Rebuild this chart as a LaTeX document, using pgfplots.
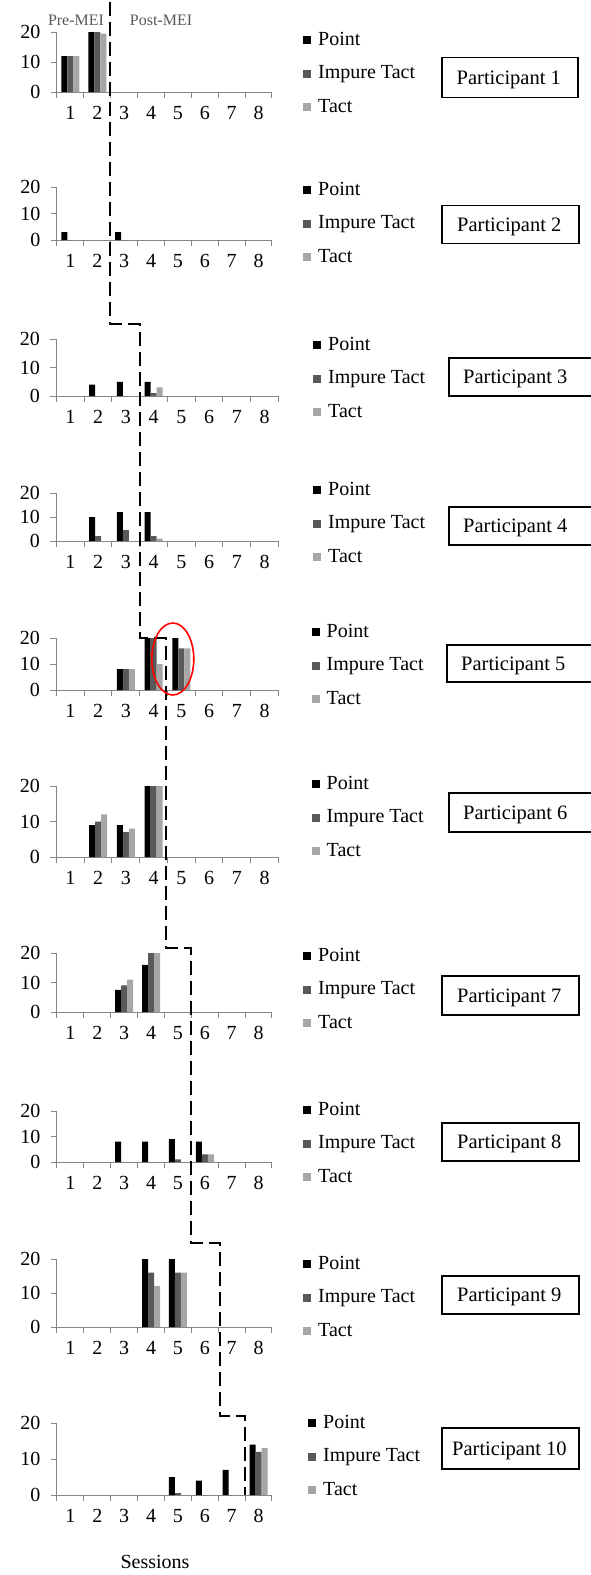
\documentclass[border=0pt]{standalone}
\usepackage{pgfplots}
\pgfplotsset{compat=1.18}
\usepackage{fontspec}
\setmainfont{Liberation Serif}
\definecolor{imp}{RGB}{89,89,89}
\definecolor{tac}{RGB}{166,166,166}
\definecolor{axgray}{RGB}{134,134,134}
\pgfplotsset{
  panel/.style={
    scale only axis, anchor=south west,
    xmin=0.5, xmax=8.5, ymin=0, ymax=20,
    axis lines=left, axis line style={-, draw=axgray, line width=1pt},
    every tick/.style={draw=axgray, line width=1pt},
    tick align=outside, major tick length=6pt, minor tick length=6pt,
    xtick={1,...,8}, minor xtick={0.5,1.5,...,8.5},
    major x tick style={draw=none},
    ytick={0,10,20},
    ticklabel style={font=\fontsize{20}{24}\selectfont},
    yticklabel style={xshift=-7pt},
    xticklabel style={yshift=-5pt},
    /pgf/number format/assume math mode=true,
    ybar=0pt, bar width=6pt,
    clip=false,
    legend cell align=left,
    legend image code/.code={\fill[##1] (0pt,-4pt) rectangle (8pt,4pt);},
    legend style={draw=none, fill=none, inner sep=0pt, row sep=11.5pt,
       font=\fontsize{20}{24}\selectfont,
       nodes={inner sep=2pt, text height=14pt, text depth=4pt},
       /tikz/every odd column/.append style={column sep=5pt},
       at={(1,0)}, anchor=north west},
  },
  pp/.style={fill=black, draw=none},
  pi/.style={fill=imp, draw=none},
  pa/.style={fill=tac, draw=none},
}
\begin{document}
\begin{tikzpicture}
\useasboundingbox (0pt,0pt) rectangle (591pt,-1575pt);

% Participant 1
\begin{axis}[panel, at={(57pt,-92pt)}, width=215pt, height=60pt,
  legend style={xshift=31pt, yshift=63pt}]
\addplot[pp] coordinates {(1,12) (2,20)}; \addlegendentry{Point}
\addplot[pi] coordinates {(1,12) (2,20)}; \addlegendentry{Impure Tact}
\addplot[pa] coordinates {(1,12) (2,19.5)}; \addlegendentry{Tact}
\end{axis}

% Participant 2
\begin{axis}[panel, at={(57pt,-240pt)}, width=215pt, height=53pt,
  legend style={xshift=31pt, yshift=61pt}]
\addplot[pp] coordinates {(1,3) (3,3)}; \addlegendentry{Point}
\addplot[pi] coordinates {(1,0) (3,0)}; \addlegendentry{Impure Tact}
\addplot[pa] coordinates {(1,0) (3,0)}; \addlegendentry{Tact}
\end{axis}

% Participant 3
\begin{axis}[panel, at={(56.5pt,-396pt)}, width=222pt, height=57pt,
  legend style={xshift=34.5pt, yshift=62pt}]
\addplot[pp] coordinates {(2,4) (3,5) (4,5)}; \addlegendentry{Point}
\addplot[pi] coordinates {(2,0) (3,0) (4,1)}; \addlegendentry{Impure Tact}
\addplot[pa] coordinates {(2,0) (3,0) (4,3)}; \addlegendentry{Tact}
\end{axis}

% Participant 4
\begin{axis}[panel, at={(56.5pt,-541pt)}, width=222pt, height=48pt,
  legend style={xshift=34.5pt, yshift=62pt}]
\addplot[pp] coordinates {(2,10) (3,12) (4,12)}; \addlegendentry{Point}
\addplot[pi] coordinates {(2,2) (3,4.5) (4,2)}; \addlegendentry{Impure Tact}
\addplot[pa] coordinates {(2,0) (3,0) (4,1)}; \addlegendentry{Tact}
\end{axis}

% Participant 5
\begin{axis}[panel, at={(56.5pt,-690pt)}, width=222pt, height=52pt,
  legend style={xshift=33pt, yshift=69pt}]
\addplot[pp] coordinates {(3,8) (4,20) (5,20)}; \addlegendentry{Point}
\addplot[pi] coordinates {(3,8) (4,20) (5,16)}; \addlegendentry{Impure Tact}
\addplot[pa] coordinates {(3,8) (4,10) (5,16)}; \addlegendentry{Tact}
\end{axis}

% Participant 6
\begin{axis}[panel, at={(56.5pt,-857pt)}, width=222pt, height=71pt,
  legend style={xshift=33pt, yshift=84pt}]
\addplot[pp] coordinates {(2,9) (3,9) (4,20)}; \addlegendentry{Point}
\addplot[pi] coordinates {(2,10) (3,7) (4,20)}; \addlegendentry{Impure Tact}
\addplot[pa] coordinates {(2,12) (3,8) (4,20)}; \addlegendentry{Tact}
\end{axis}

% Participant 7
\begin{axis}[panel, at={(57pt,-1012pt)}, width=215pt, height=59pt,
  legend style={xshift=31pt, yshift=67pt}]
\addplot[pp] coordinates {(3,7.5) (4,16)}; \addlegendentry{Point}
\addplot[pi] coordinates {(3,9) (4,20)}; \addlegendentry{Impure Tact}
\addplot[pa] coordinates {(3,11) (4,20)}; \addlegendentry{Tact}
\end{axis}

% Participant 8
\begin{axis}[panel, at={(57pt,-1162pt)}, width=215pt, height=51pt,
  legend style={xshift=31pt, yshift=63pt}]
\addplot[pp] coordinates {(3,8) (4,8) (5,9) (6,8)}; \addlegendentry{Point}
\addplot[pi] coordinates {(3,0) (4,0) (5,1) (6,3)}; \addlegendentry{Impure Tact}
\addplot[pa] coordinates {(3,0) (4,0) (5,0) (6,3)}; \addlegendentry{Tact}
\end{axis}

% Participant 9
\begin{axis}[panel, at={(57pt,-1327pt)}, width=215pt, height=68pt,
  legend style={xshift=31pt, yshift=74pt}]
\addplot[pp] coordinates {(4,20) (5,20)}; \addlegendentry{Point}
\addplot[pi] coordinates {(4,16) (5,16)}; \addlegendentry{Impure Tact}
\addplot[pa] coordinates {(4,12) (5,16)}; \addlegendentry{Tact}
\end{axis}

% Participant 10
\begin{axis}[panel, at={(57pt,-1495pt)}, width=215pt, height=72pt,
  legend style={xshift=36pt, yshift=83pt}]
\addplot[pp] coordinates {(5,5) (6,4) (7,7) (8,14)}; \addlegendentry{Point}
\addplot[pi] coordinates {(5,0.5) (6,0) (7,0) (8,12)}; \addlegendentry{Impure Tact}
\addplot[pa] coordinates {(5,0) (6,0) (7,0) (8,13)}; \addlegendentry{Tact}
\end{axis}

\begin{scope}[x=1pt, y=-1pt]
\tikzset{ptext/.style={inner sep=0pt, anchor=base west, font=\fontsize{20.5}{24}\selectfont},
  pbox/.style={draw=black, line width=1.6pt}}
% participant boxes: rectangle, then label
\draw[pbox] (441.7,57.3) rectangle (578,97.3);   \node[ptext] at (456.5,84.1) {Participant 1};
\draw[pbox] (442,205.5) rectangle (579,243.5);  \node[ptext] at (457,231.3) {Participant 2};
\draw[pbox] (449,358) rectangle (605,396);      \node[ptext] at (463,383.8) {Participant 3};
\draw[pbox] (449,507) rectangle (605,545);      \node[ptext] at (463,532.8) {Participant 4};
\draw[pbox] (447,645) rectangle (605,682);      \node[ptext] at (461,670.3) {Participant 5};
\draw[pbox] (449,793) rectangle (605,832);      \node[ptext] at (463,819.3) {Participant 6};
\draw[pbox] (442,976) rectangle (579,1015);     \node[ptext] at (457,1002.3) {Participant 7};
\draw[pbox] (442,1123) rectangle (579,1161);    \node[ptext] at (457,1148.8) {Participant 8};
\draw[pbox] (442,1276) rectangle (579,1314);    \node[ptext] at (457,1301.8) {Participant 9};
\draw[pbox] (442,1428) rectangle (579,1469);    \node[ptext] at (452,1455.3) {Participant 10};

\node[text=black!65, font=\fontsize{16}{18}\selectfont] at (76,20) {Pre-MEI};
\node[text=black!65, font=\fontsize{16}{18}\selectfont] at (161,20) {Post-MEI};
\node[font=\fontsize{20}{24}\selectfont] at (155,1562) {Sessions};

\draw[line width=1.5pt, dash pattern=on 14pt off 6pt]
  (110,2) -- (110,324) -- (140,324) -- (140,638) -- (166,638) -- (166,948)
  -- (191,948) -- (191,1243) -- (220,1243) -- (220,1416) -- (245,1416) -- (245,1495);
\draw[red, line width=1.6pt] (172.8,659) ellipse [x radius=21pt, y radius=36pt];
\end{scope}
\end{tikzpicture}
\end{document}
